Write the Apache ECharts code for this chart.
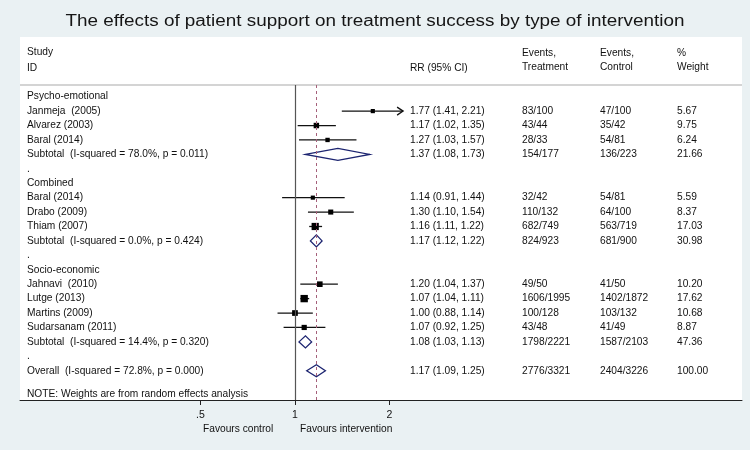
<!DOCTYPE html>
<html lang="en">
<head>
    <meta charset="UTF-8">
    <title>Patient support forest plot</title>
    <script src="https://cdn.jsdelivr.net/npm/echarts/dist/echarts.min.js"></script>
    <style>
        body { margin: 0; padding: 0; background-color: #eaf1f3; }
        #chart { width: 750px; height: 450px; }
    </style>
</head>
<body>

<div id="chart"></div>

<script>
// left column, one entry per row
const rowLabels = [
    'Psycho-emotional', 'Janmeja  (2005)', 'Alvarez (2003)', 'Baral (2014)',
    'Subtotal  (I-squared = 78.0%, p = 0.011)', '.',
    'Combined', 'Baral (2014)', 'Drabo (2009)', 'Thiam (2007)',
    'Subtotal  (I-squared = 0.0%, p = 0.424)', '.',
    'Socio-economic', 'Jahnavi  (2010)', 'Lutge (2013)', 'Martins (2009)', 'Sudarsanam (2011)',
    'Subtotal  (I-squared = 14.4%, p = 0.320)', '.',
    'Overall  (I-squared = 72.8%, p = 0.000)'
];
const noteText = 'NOTE: Weights are from random effects analysis';

// rows that carry an estimate
const estRows = [1, 2, 3, 4, 7, 8, 9, 10, 13, 14, 15, 16, 17, 19];
const estKind = ['s', 's', 's', 'd', 's', 's', 's', 'd', 's', 's', 's', 's', 'd', 'd'];
const rr = [1.77, 1.17, 1.27, 1.37, 1.14, 1.30, 1.16, 1.17, 1.20, 1.07, 1.00, 1.07, 1.08, 1.17];
const rrLo = [1.41, 1.02, 1.03, 1.08, 0.91, 1.10, 1.11, 1.12, 1.04, 1.04, 0.88, 0.92, 1.03, 1.09];
const rrHi = [2.21, 1.35, 1.57, 1.73, 1.44, 1.54, 1.22, 1.22, 1.37, 1.11, 1.14, 1.25, 1.13, 1.25];
const eventsT = ['83/100', '43/44', '28/33', '154/177', '32/42', '110/132', '682/749', '824/923',
    '49/50', '1606/1995', '100/128', '43/48', '1798/2221', '2776/3321'];
const eventsC = ['47/100', '35/42', '54/81', '136/223', '54/81', '64/100', '563/719', '681/900',
    '41/50', '1402/1872', '103/132', '41/49', '1587/2103', '2404/3226'];
const weight = [5.67, 9.75, 6.24, 21.66, 5.59, 8.37, 17.03, 30.98, 10.20, 17.62, 10.68, 8.87, 47.36, 100.00];

const overallRR = 1.17;
const xTicks = [0.5, 1, 2];
const xTickLabels = ['.5', '1', '2'];

const FONT = "'Liberation Sans', Arial, sans-serif";
const TXT = '#111';
const NAVY = '#1c2470';

const chart = echarts.init(document.getElementById('chart'));

function txt(x, y, s, extra) {
    return Object.assign({
        type: 'text',
        style: { x: x, y: y, text: s, fill: TXT, font: '10.2px ' + FONT, textVerticalAlign: 'middle' }
    }, extra || {});
}

function renderLabel(params, api) {
    const y = api.coord([1, params.dataIndex])[1];
    return txt(27, y, rowLabels[params.dataIndex]);
}

function renderEstimate(params, api) {
    const i = params.dataIndex;
    const y = api.coord([1, estRows[i]])[1];
    const xm = api.coord([rr[i], estRows[i]])[0];
    const xl = api.coord([rrLo[i], estRows[i]])[0];
    const xh = api.coord([rrHi[i], estRows[i]])[0];
    const children = [];
    if (estKind[i] === 'd') {
        children.push({
            type: 'polygon',
            shape: { points: [[xl, y], [xm, y - 6], [xh, y], [xm, y + 6]] },
            style: { fill: '#fff', stroke: NAVY, lineWidth: 1.3 }
        });
    } else {
        children.push({
            type: 'line',
            shape: { x1: xl, y1: y, x2: xh, y2: y },
            style: { stroke: '#111', lineWidth: 1.3 }
        });
        // CI runs past the last tick: arrow head
        if (rrHi[i] > xTicks[xTicks.length - 1]) {
            children.push({
                type: 'polyline',
                shape: { points: [[xh - 6, y - 4], [xh, y], [xh - 6, y + 4]] },
                style: { stroke: '#111', lineWidth: 1.3, fill: null }
            });
        }
        const s = 1.75 * Math.sqrt(weight[i]);
        children.push({
            type: 'rect',
            shape: { x: xm - s / 2, y: y - s / 2, width: s, height: s },
            style: { fill: '#000' }
        });
    }
    // right hand columns
    children.push(txt(410, y, rr[i].toFixed(2) + ' (' + rrLo[i].toFixed(2) + ', ' + rrHi[i].toFixed(2) + ')'));
    children.push(txt(522, y, eventsT[i]));
    children.push(txt(600, y, eventsC[i]));
    children.push(txt(677, y, weight[i].toFixed(2)));
    return { type: 'group', children: children };
}

const option = {
    backgroundColor: '#eaf1f3',
    animation: false,
    grid: { left: 20, right: 8, top: 85, bottom: 50 },
    xAxis: {
        type: 'log',
        logBase: 2,
        min: 0.1331,
        max: 26.54,
        splitLine: { show: false },
        axisLine: { onZero: false, lineStyle: { color: '#222', width: 1 } },
        axisTick: { show: true, length: 5, customValues: xTicks, lineStyle: { color: '#222' } },
        axisLabel: {
            customValues: xTicks,
            margin: 10,
            color: TXT,
            fontFamily: FONT,
            fontSize: 10.5,
            formatter: function (v) { return xTickLabels[xTicks.indexOf(v)] || ''; }
        }
    },
    yAxis: {
        type: 'value',
        inverse: true,
        min: -0.81,
        max: 21.03,
        show: false
    },
    graphic: [
        { type: 'rect', z: -10, shape: { x: 20, y: 37, width: 722, height: 363 }, style: { fill: '#fff' } },
        { type: 'line', z: -5, shape: { x1: 20, y1: 85, x2: 742, y2: 85 }, style: { stroke: '#d4d4d4', lineWidth: 2 } },
        {
            type: 'text', x: 375, y: 22, scaleX: 1.18,
            style: {
                x: 0, y: 0, text: 'The effects of patient support on treatment success by type of intervention',
                fill: '#151515', font: '16px ' + FONT, textAlign: 'center', textVerticalAlign: 'middle'
            }
        },
        txt(27, 52, 'Study'), txt(27, 68, 'ID'),
        txt(410, 68, 'RR (95% CI)'),
        txt(522, 53, 'Events,'), txt(522, 67, 'Treatment'),
        txt(600, 53, 'Events,'), txt(600, 67, 'Control'),
        txt(677, 53, '%'), txt(677, 67, 'Weight'),
        txt(27, 394, noteText),
        txt(203, 429, 'Favours control'),
        txt(300, 429, 'Favours intervention')
    ],
    series: [
        {
            type: 'custom',
            name: 'refs',
            data: [],
            renderItem: function () { return null; },
            markLine: {
                silent: true,
                symbol: 'none',
                label: { show: false },
                data: [
                    { xAxis: 1, lineStyle: { color: '#555', type: 'solid', width: 1.2 } },
                    { xAxis: overallRR, lineStyle: { color: '#a5607a', type: [3, 3], width: 1 } }
                ]
            }
        },
        {
            type: 'custom',
            name: 'labels',
            clip: false,
            data: rowLabels.map(function (_, i) { return [1, i]; }),
            renderItem: renderLabel
        },
        {
            type: 'custom',
            name: 'estimates',
            clip: false,
            data: estRows.map(function (r, i) { return [rr[i], r]; }),
            renderItem: renderEstimate
        }
    ]
};

chart.setOption(option);
</script>

</body>
</html>
